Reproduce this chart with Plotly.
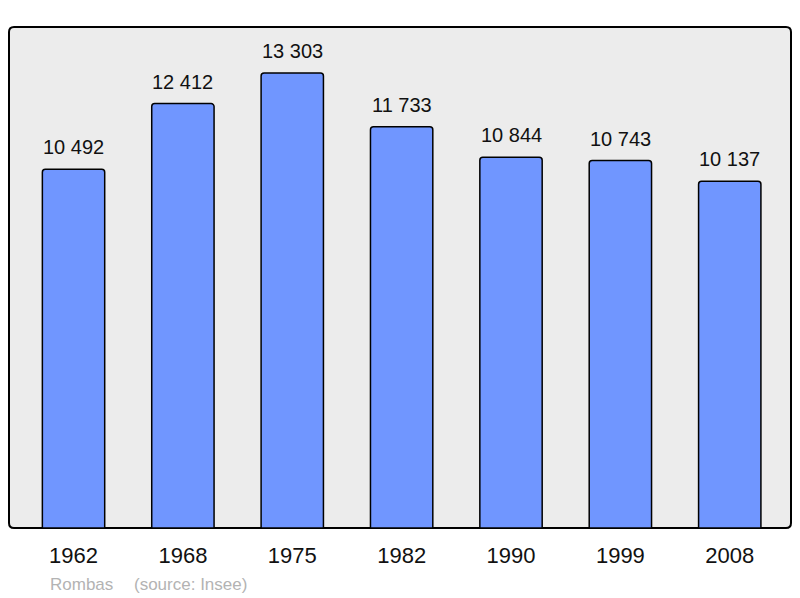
import plotly.graph_objects as go

years = ["1962", "1968", "1975", "1982", "1990", "1999", "2008"]
population = [10492, 12412, 13303, 11733, 10844, 10743, 10137]
town = "Rombas"
source = "(source: Insee)"

def fmt(v):
    return f"{v:,}".replace(",", " ")

FONT = "Liberation Sans, Arial, sans-serif"

# the page body has an 8px margin; size the figure so it fits the 800x598 window
OFF = 8
W, H = 800 - OFF, 598 - OFF
ml, mr, mt, mb = 9 - OFF, 9, 27 - OFF, 70
pw, ph = W - ml - mr, H - mt - mb

fig = go.Figure()
fig.add_trace(go.Bar(
    x=years, y=population, width=0.57,
    marker=dict(color="#7096ff", line=dict(color="#000000", width=1.5), cornerradius=3),
    hoverinfo="skip",
))

annotations = []
for i, v in enumerate(population):
    annotations.append(dict(
        x=i, y=v, xref="x", yref="y", text=fmt(v), showarrow=False,
        xanchor="center", yanchor="bottom", yshift=9,
        font=dict(family=FONT, size=20, color="#111111"),
    ))

def page_to_paper(px, py):
    fx, fy = px - OFF, py - OFF
    return (fx - ml) / pw, (H - mb - fy) / ph

for txt, (px, py) in [(town, (48, 584)), (source, (132, 584))]:
    xp, yp = page_to_paper(px, py)
    annotations.append(dict(x=xp, y=yp, xref="paper", yref="paper", text=txt,
                            showarrow=False, xanchor="left", yanchor="middle",
                            font=dict(family=FONT, size=17, color="#b3b3b3")))

rx, ry = 5 / pw, 5 / ph
path = (f"M {rx},0 L {1-rx},0 Q 1,0 1,{ry} L 1,{1-ry} Q 1,1 {1-rx},1 "
        f"L {rx},1 Q 0,1 0,{1-ry} L 0,{ry} Q 0,0 {rx},0 Z")

fig.update_layout(
    width=W, height=H,
    margin=dict(l=ml, r=mr, t=mt, b=mb, pad=0),
    paper_bgcolor="white", plot_bgcolor="rgba(0,0,0,0)",
    showlegend=False,
    annotations=annotations,
    shapes=[dict(type="path", path=path, xref="paper", yref="paper",
                 fillcolor="#ececec", line=dict(color="#000000", width=2), layer="below")],
    xaxis=dict(type="category", range=[-0.59, 6.56], showgrid=False, zeroline=False,
               showline=False, ticks="", tickfont=dict(family=FONT, size=22, color="#111111"),
               ticklabelstandoff=12, fixedrange=True),
    yaxis=dict(range=[0, 14650], showgrid=False, zeroline=False, showline=False,
               showticklabels=False, ticks="", fixedrange=True),
)

fig.write_html("out.html")
